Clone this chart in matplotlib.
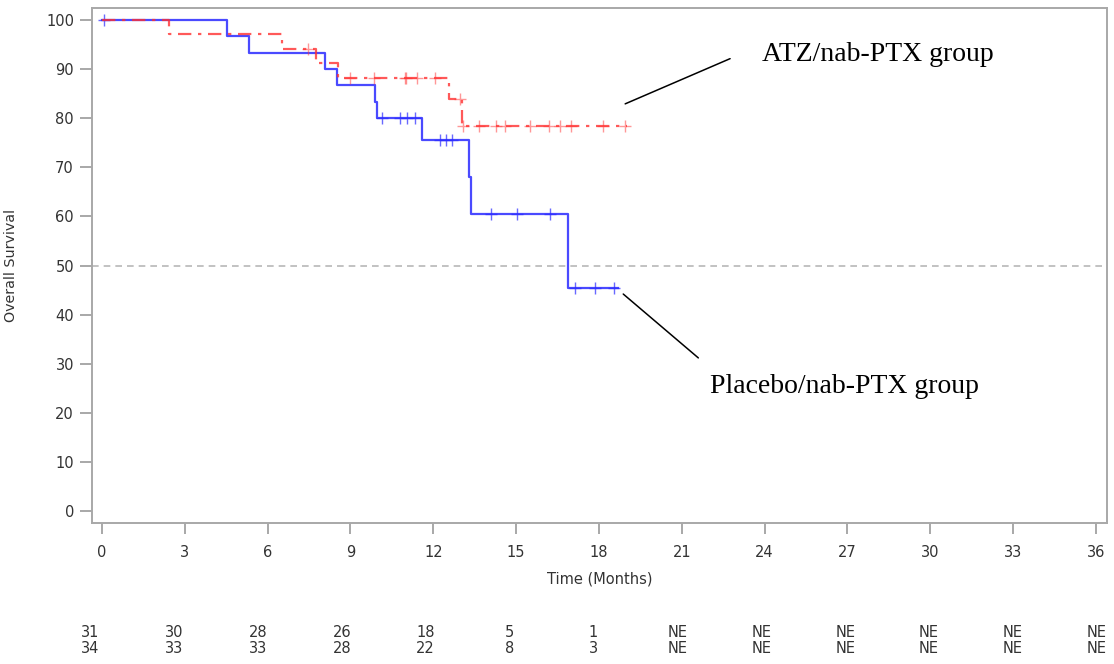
import matplotlib
matplotlib.use("Agg")
import matplotlib.pyplot as plt
import matplotlib.transforms as mtransforms
import numpy as np

# Kaplan-Meier steps (months, % surviving)
placebo_t = [0, 4.52, 5.34, 8.09, 8.5, 9.89, 9.97, 11.58, 13.3, 13.36, 16.87, 18.7]
placebo_s = [100, 96.7, 93.3, 90.0, 86.7, 83.3, 80.0, 75.6, 68.1, 60.5, 45.4, 45.4]
placebo_cens = [0.07, 10.13, 10.8, 11.06, 11.34, 12.25, 12.46, 12.67,
                14.1, 15.02, 16.23, 17.14, 17.84, 18.53]

atz_t = [0, 2.44, 6.51, 7.75, 8.56, 12.57, 13.05, 19.0]
atz_s = [100, 97.1, 94.1, 91.2, 88.2, 83.8, 78.3, 78.3]
atz_cens = [7.48, 8.99, 9.86, 10.96, 11.02, 11.4, 12.05, 12.95,
            13.08, 13.66, 14.26, 14.58, 15.5, 16.2, 16.6, 17.0, 18.16, 18.95]

# numbers at risk
risk_times = list(range(0, 37, 3))
risk_atz = ['31', '30', '28', '26', '18', '5', '1', 'NE', 'NE', 'NE', 'NE', 'NE', 'NE']
risk_placebo = ['34', '33', '33', '28', '22', '8', '3', 'NE', 'NE', 'NE', 'NE', 'NE', 'NE']


def step_value(t_steps, s_steps, t):
    idx = np.searchsorted(t_steps, t, side='right') - 1
    return np.array(s_steps)[idx]


grey = '#a8a8a8'
txt = '#333333'
blue = '#2a2aff'
red = '#ff3030'

fig = plt.figure(figsize=(11.14, 6.64), dpi=100)
ax = fig.add_axes([0.0826, 0.2123, 0.9111, 0.7756])

ax.axhline(50, color='#b8b8b8', lw=1.2, ls=(0, (4, 3)), zorder=1)

# placebo curve (solid blue)
ax.step(placebo_t, placebo_s, where='post', color=blue, lw=1.6, alpha=0.85, zorder=3)
ax.plot(placebo_cens, step_value(placebo_t, placebo_s, placebo_cens), ls='none',
        marker='+', ms=9, mew=1.0, color=blue, alpha=0.7, zorder=3)

# ATZ curve (red dash-dot)
ax.step(atz_t, atz_s, where='post', color=red, lw=1.6, alpha=0.8,
        ls=(0, (6, 3, 1.5, 3)), zorder=4)
ax.plot(atz_cens, step_value(atz_t, atz_s, atz_cens), ls='none',
        marker='+', ms=9, mew=1.0, color=red, alpha=0.5, zorder=4)

ax.set_xlim(-0.36, 36.4)
ax.set_ylim(-2.4, 102.4)
ax.set_xticks(risk_times)
ax.set_yticks(range(0, 101, 10))

for sp in ax.spines.values():
    sp.set_color(grey)
    sp.set_linewidth(1.4)
ax.tick_params(axis='x', colors=grey, length=8, width=1.4, pad=8, labelcolor=txt, labelsize=10.5)
ax.tick_params(axis='y', colors=grey, length=9, width=1.4, pad=4, labelcolor=txt, labelsize=10.5)

ax.set_xlabel('Time (Months)', fontsize=10.5, color=txt)
ax.xaxis.set_label_coords(0.5, -0.095)
ax.set_ylabel('Overall Survival', fontsize=10.3, color=txt)
ax.yaxis.set_label_coords(-0.073, 0.5)

# group labels with leader lines
ax.annotate('', xy=(18.95, 82.9), xytext=(22.75, 92.1),
            arrowprops=dict(arrowstyle='-', color='black', lw=1.1, shrinkA=0, shrinkB=0))
ax.text(23.9, 93.0, 'ATZ/nab-PTX group', fontsize=20, family='Liberation Serif',
        va='center', ha='left', color='black')
ax.annotate('', xy=(18.88, 44.2), xytext=(21.6, 31.2),
            arrowprops=dict(arrowstyle='-', color='black', lw=1.1, shrinkA=0, shrinkB=0))
ax.text(22.03, 25.3, 'Placebo/nab-PTX group', fontsize=20, family='Liberation Serif',
        va='center', ha='left', color='black')

# at-risk table below the axis
tab = fig.add_axes([0.0826, 0.0, 0.9111, 0.1])
tab.set_xlim(0.07, 36.36)
tab.axis('off')
trans = mtransforms.blended_transform_factory(tab.transData, fig.transFigure)
for t, a, p in zip(risk_times, risk_atz, risk_placebo):
    tab.text(t, 0.047, a, transform=trans, ha='center', va='center', fontsize=10.5, color=txt)
    tab.text(t, 0.024, p, transform=trans, ha='center', va='center', fontsize=10.5, color=txt)

fig.savefig('out.png', dpi=100)
